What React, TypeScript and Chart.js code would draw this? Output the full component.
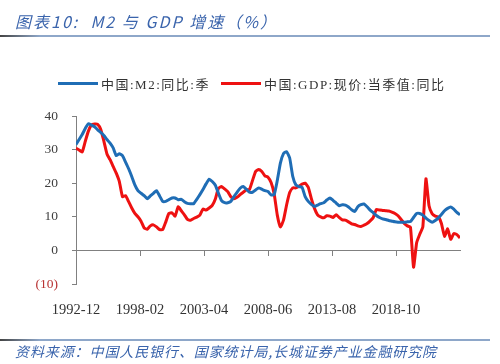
import React, { useEffect, useRef } from "react";
import { Chart, registerables } from "chart.js";
Chart.register(...registerables);

// Quarterly observations starting 1992-12 (x = months since 1992-12)
const START_YEAR = 1992;
const START_MONTH = 12;
const MONTHS_PER_POINT = 3;

const m2Values = [
  31.5, 33.0, 34.5, 36.3, 37.7, 37.3, 36.8, 35.9, 35.1, 34.2,
  33.0, 31.9, 30.5, 28.2, 28.8, 28.2, 26.3, 24.3, 22.0, 19.5,
  17.8, 17.0, 16.3, 15.4, 16.2, 17.0, 17.8, 16.2, 14.6, 14.6,
  15.1, 15.6, 15.6, 15.1, 15.2, 14.5, 14.0, 13.9, 13.9, 15.2,
  16.6, 18.1, 19.8, 21.2, 20.5, 19.4, 17.0, 14.8, 14.2, 14.2,
  14.6, 16.0, 17.3, 18.5, 19.0, 18.2, 17.3, 17.3, 18.0, 18.6,
  18.2, 17.8, 17.5, 16.5, 16.6, 20.8, 26.0, 28.8, 29.4, 27.5,
  22.0, 19.5, 19.0, 18.8, 16.0, 14.6, 13.7, 13.1, 13.5, 13.9,
  14.2, 15.0, 15.6, 14.9, 14.1, 13.3, 13.6, 13.5, 12.9, 12.1,
  11.6, 13.0, 13.6, 13.8, 13.0, 12.0, 11.2, 10.4, 9.8, 9.4,
  9.2, 8.9, 8.7, 8.5, 8.4, 8.4, 8.4, 8.5, 8.6, 9.8,
  11.0, 11.0, 10.5, 9.6, 8.9, 8.4, 8.9, 9.7, 10.7, 11.8,
  12.5, 12.9, 12.3, 11.3, 10.6,
];

const gdpValues = [
  30.4, 29.9, 29.3, 32.5, 35.5, 37.3, 37.6, 37.5, 36.0, 32.5,
  28.7, 27.0, 25.0, 23.0, 20.5, 16.0, 16.3, 14.5, 12.6, 11.0,
  10.0, 8.7, 6.7, 6.3, 7.3, 7.6, 7.0, 6.2, 6.2, 8.5,
  11.0, 11.2, 10.2, 13.0, 11.8, 10.6, 9.2, 9.0, 9.5, 9.9,
  10.5, 12.3, 12.0, 12.6, 13.4, 15.3, 18.5, 19.0, 18.3, 17.5,
  16.0, 15.4, 15.8, 16.6, 17.3, 18.0, 18.1, 20.8, 23.5, 24.1,
  23.5, 22.2, 21.8, 20.2, 16.8, 10.5, 7.0, 9.0, 13.5, 17.2,
  18.6, 18.6, 19.1, 19.7, 20.0, 18.8, 15.4, 12.5, 10.6, 10.0,
  9.7, 10.3, 10.2, 9.8, 10.6, 9.8, 9.1, 9.0, 8.5, 7.9,
  7.7, 7.3, 7.1, 7.5, 8.0, 8.8, 9.8, 12.2, 12.0, 11.9,
  11.8, 11.7, 11.4, 11.0, 10.3, 9.2, 8.0, 7.3, 6.9, -5.0,
  2.3, 4.8, 7.0, 21.3, 13.3, 10.9, 10.2, 10.0, 8.0, 4.2,
  6.4, 3.3, 5.0, 4.7, 3.7,
];

const xTickMonths = [0, 62, 124, 186, 248, 310];
const xTickLabels = ["1992-12", "1998-02", "2003-04", "2008-06", "2013-08", "2018-10"];
const yMin = -10;
const yMax = 40;
const yStep = 10;

const seriesNames = ["中国:M2:同比:季", "中国:GDP:现价:当季值:同比"];
const seriesColors = ["#1f6db5", "#ee1111"];
const titleText = "图表10:  M2 与 GDP 增速（%）";
const sourceText = "资料来源：中国人民银行、国家统计局,长城证券产业金融研究院";

const toPoints = (vals: number[]) => vals.map((v, i) => ({ x: i * MONTHS_PER_POINT, y: v }));

export default function App() {
  const canvasRef = useRef<HTMLCanvasElement | null>(null);

  useEffect(() => {
    if (!canvasRef.current) return;
    const lastX = (Math.max(m2Values.length, gdpValues.length) - 1) * MONTHS_PER_POINT;
    const serif = '"Liberation Serif", "Times New Roman", serif';
    const chart = new Chart(canvasRef.current, {
      type: "line",
      data: {
        datasets: [
          {
            label: seriesNames[0],
            data: toPoints(m2Values),
            borderColor: seriesColors[0],
            backgroundColor: seriesColors[0],
            borderWidth: 3,
            pointRadius: 0,
            tension: 0.15,
          },
          {
            label: seriesNames[1],
            data: toPoints(gdpValues),
            borderColor: seriesColors[1],
            backgroundColor: seriesColors[1],
            borderWidth: 3,
            pointRadius: 0,
            tension: 0.15,
          },
        ],
      },
      options: {
        responsive: false,
        animation: false,
        devicePixelRatio: 1,
        layout: { padding: { left: 0, right: 40, top: 116, bottom: 0 } },
        plugins: {
          legend: { display: false },
          tooltip: { enabled: false },
        },
        scales: {
          x: {
            type: "linear",
            min: 0,
            max: lastX,
            position: { y: 0 } as any,
            afterBuildTicks: (scale: any) => {
              scale.ticks = xTickMonths.map((v) => ({ value: v }));
            },
            ticks: { display: false },
            grid: { drawOnChartArea: false, drawTicks: true, tickLength: 5, color: "#808080" },
            border: { display: true, color: "#808080", width: 1 },
          },
          x2: {
            type: "linear",
            position: "bottom",
            min: 0,
            max: lastX,
            afterBuildTicks: (scale: any) => {
              scale.ticks = xTickMonths.map((v) => ({ value: v }));
            },
            afterFit: (scale: any) => {
              scale.height = 80;
            },
            ticks: {
              padding: 9,
              maxRotation: 0,
              autoSkip: false,
              color: "#333333",
              font: { family: serif, size: 14.5 },
              callback: (v: any) => {
                const i = xTickMonths.indexOf(Number(v));
                return i >= 0 ? xTickLabels[i] : "";
              },
            },
            grid: { display: false },
            border: { display: false },
          },
          y: {
            type: "linear",
            min: yMin,
            max: yMax,
            afterFit: (scale: any) => {
              scale.width = 76;
            },
            ticks: {
              stepSize: yStep,
              padding: 14,
              color: (ctx: any) => (ctx.tick && ctx.tick.value < 0 ? "#b83232" : "#404040"),
              font: { family: serif, size: 13.5 },
              callback: (v: any) => {
                const n = Number(v);
                return n < 0 ? `(${Math.abs(n)})` : `${n}`;
              },
            },
            grid: { drawOnChartArea: false, drawTicks: true, tickLength: 4, color: "#808080" },
            border: { display: true, color: "#808080", width: 1 },
          },
        },
      },
    });
    return () => chart.destroy();
  }, []);

  const legendFont = '"Liberation Serif", "Noto Sans CJK SC", serif';
  return (
    <div style={{ position: "absolute", left: 0, top: 0, width: 500, height: 364, background: "#fff", overflow: "hidden" }}>
      <canvas ref={canvasRef} width={500} height={364} style={{ position: "absolute", left: 0, top: 0, display: "block" }} />
      <div
        style={{
          position: "absolute",
          left: 15,
          top: 9,
          fontFamily: '"Noto Sans CJK SC", sans-serif',
          fontStyle: "italic",
          fontSize: 16,
          letterSpacing: 2,
          color: "#3a64ac",
          whiteSpace: "pre",
          lineHeight: "24px",
        }}
      >
        {titleText}
      </div>
      <div
        style={{
          position: "absolute",
          left: 0,
          top: 35,
          width: 490,
          height: 2,
          background: "linear-gradient(to right, #444 0px, #8ea7c9 40px, #8ea7c9 100%)",
        }}
      />
      {seriesNames.map((name, i) => (
        <div
          key={name}
          style={{
            position: "absolute",
            left: i === 0 ? 58 : 221,
            top: 74,
            height: 18,
            display: "flex",
            alignItems: "center",
            fontFamily: legendFont,
            fontSize: 13,
            letterSpacing: 1.5,
            color: "#333",
            whiteSpace: "pre",
          }}
        >
          <span style={{ display: "inline-block", width: 40, height: 3, background: seriesColors[i], marginRight: 3 }} />
          <span>{name}</span>
        </div>
      ))}
      <div
        style={{
          position: "absolute",
          left: 0,
          top: 339,
          width: 490,
          height: 2,
          background: "linear-gradient(to right, #444 0px, #8ea7c9 40px, #8ea7c9 100%)",
        }}
      />
      <div
        style={{
          position: "absolute",
          left: 15,
          top: 341,
          fontFamily: '"Noto Sans CJK SC", sans-serif',
          fontStyle: "italic",
          fontSize: 14,
          letterSpacing: 0.9,
          color: "#3a64ac",
          whiteSpace: "pre",
          lineHeight: "20px",
        }}
      >
        {sourceText}
      </div>
    </div>
  );
}
